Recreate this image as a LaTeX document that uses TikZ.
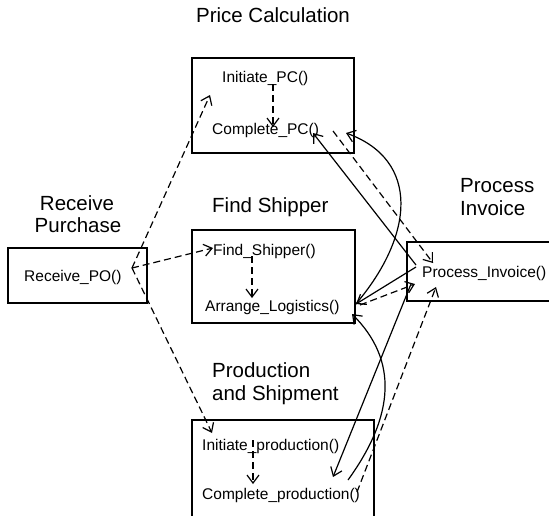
\documentclass[tikz,border=0pt]{standalone}
\usepackage{fontspec}
\setmainfont{Liberation Sans}
\usetikzlibrary{arrows.meta}
\begin{document}
\begin{tikzpicture}[x=1pt,y=-1pt,
  frame/.style={draw,line width=1.8pt},
  fn/.style={inner sep=0pt,anchor=base west,font=\fontsize{15.5}{18}\selectfont},
  ttl/.style={inner sep=0pt,font=\fontsize{20.5}{23}\selectfont},
  barb/.style={-{Straight Barb[length=8pt,width=12pt]}},
  ctl/.style={line width=1.2pt,dash pattern=on 7pt off 4pt,barb},
  msg/.style={line width=1.2pt,barb}]
\fill[white] (0,0) rectangle (549,515);
\clip (0,0) rectangle (549,515);

% activity frames
\draw[frame] (192,58) rectangle (354,153);
\draw[frame] (8,248) rectangle (147,303);
\draw[frame] (192,230) rectangle (355,323);
\draw[frame] (407,242) rectangle (560,301);
\draw[frame] (192,420) rectangle (374,530);

% frame titles
\node[ttl,anchor=base] (tpc) at (273,22) {Price Calculation};
\node[ttl,anchor=base] (trp1) at (77,210) {Receive};
\node[ttl,anchor=base] (trp2) at (78,232) {Purchase};
\node[ttl,anchor=base west] (tfs) at (212,212) {Find Shipper};
\node[ttl,anchor=base west] (tpi1) at (460,192) {Process};
\node[ttl,anchor=base west] (tpi2) at (460,215) {Invoice};
\node[ttl,anchor=base west] (tps1) at (212,377) {Production};
\node[ttl,anchor=base west] (tps2) at (212,400) {and Shipment};

% operations
\node[fn] (ipc) at (222,82) {Initiate\_PC()};
\node[fn] (cpc) at (212,134) {Complete\_PC()};
\node[fn] (rpo) at (24,281) {Receive\_PO()};
\node[fn] (fsh) at (213,255) {Find\_Shipper()};
\node[fn] (alg) at (205,311) {Arrange\_Logistics()};
\node[fn] (pin) at (422,277) {Process\_Invoice()};
\node[fn] (ipr) at (202,450) {Initiate\_production()};
\node[fn] (cpr) at (202,499) {Complete\_production()};

% connector ports
\coordinate (rpo-out) at (132,268);
\coordinate (ipc-in) at (210,95);
\coordinate (fsh-in) at (213,248);
\coordinate (ipr-in) at (212,433);
\coordinate (ipc-out) at (273,84);
\coordinate (cpc-in) at (273,127);
\coordinate (fsh-out) at (252,256);
\coordinate (alg-in) at (252,298);
\coordinate (ipr-out) at (253,440);
\coordinate (cpr-in) at (253,484);
\coordinate (cpc-out) at (333,131);
\coordinate (cpc-msg) at (313,133);
\coordinate (cpc-cur) at (346,133);
\coordinate (alg-out) at (360,305);
\coordinate (alg-msg) at (356,304);
\coordinate (alg-cur) at (352,314);
\coordinate (alg-src) at (355,305);
\coordinate (cpr-out) at (357,492);
\coordinate (cpr-msg) at (333,477);
\coordinate (cpr-src) at (348,480);
\coordinate (pin-a) at (433,263);
\coordinate (pin-b) at (415,284);
\coordinate (pin-c) at (436,287);
\coordinate (pin-o1) at (416,265);
\coordinate (pin-o2) at (416,267);
\coordinate (pin-o3) at (411,284);

% control links
\draw[ctl] (rpo-out) -- (ipc-in);
\draw[ctl] (rpo-out) -- (fsh-in);
\draw[ctl] (rpo-out) -- (ipr-in);
\draw[ctl] (ipc-out) -- (cpc-in);
\draw[ctl] (fsh-out) -- (alg-in);
\draw[ctl] (ipr-out) -- (cpr-in);
\draw[ctl] (cpc-out) -- (pin-a);
\draw[ctl] (alg-out) -- (pin-b);
\draw[ctl] (cpr-out) -- (pin-c);

% messages
\draw[msg] (pin-o1) -- (cpc-msg);
\draw[msg] (pin-o2) -- (alg-msg);
\draw[msg] (pin-o3) -- (cpr-msg);
\draw[msg] (alg-src) .. controls (415,235) and (420,160) .. (cpc-cur);
\draw[msg] (cpr-src) .. controls (395,415) and (398,360) .. (alg-cur);
\end{tikzpicture}
\end{document}
